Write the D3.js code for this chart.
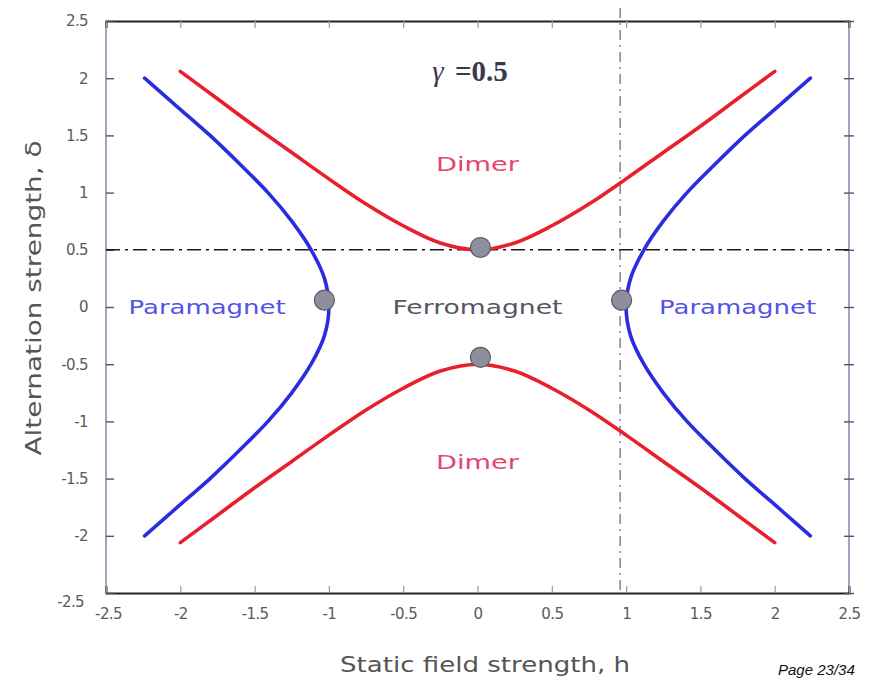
<!DOCTYPE html>
<html>
<head>
<meta charset="utf-8">
<script src="https://cdn.jsdelivr.net/npm/d3@7"></script>
<style>
  html, body { margin: 0; padding: 0; background: #fff; }
  svg { display: block; }
</style>
</head>
<body>
<svg id="chart" width="872" height="680"></svg>
<script>
// Tick values for both axes
const xTicks = [-2.5, -2, -1.5, -1, -0.5, 0, 0.5, 1, 1.5, 2, 2.5];
const yTicks = [-2.5, -2, -1.5, -1, -0.5, 0, 0.5, 1, 1.5, 2, 2.5];

// Paramagnet boundary: field h at each alternation delta (right branch; left is mirrored)
const blueDelta = [-2, -1.75, -1.5, -1.25, -1, -0.75, -0.5, -0.25, 0, 0.25, 0.5, 0.75, 1, 1.25, 1.5, 1.75, 2];
const blueH     = [2.24, 2.02, 1.80, 1.60, 1.41, 1.25, 1.12, 1.03, 1.00, 1.03, 1.12, 1.25, 1.41, 1.60, 1.80, 2.02, 2.24];

// Dimer boundary: alternation delta at each field h (upper branch; lower is mirrored)
const redH     = [-2, -1.75, -1.5, -1.25, -1, -0.75, -0.5, -0.25, 0, 0.25, 0.5, 0.75, 1, 1.25, 1.5, 1.75, 2];
const redDelta = [2.06, 1.82, 1.58, 1.35, 1.12, 0.90, 0.71, 0.56, 0.50, 0.56, 0.71, 0.90, 1.12, 1.35, 1.58, 1.82, 2.06];

// Multicritical points
const pointH     = [0.02, 0.02, -1.03, 0.97];
const pointDelta = [0.52, -0.44, 0.06, 0.06];

// Reference lines
const refDelta = 0.5;
const refH = 0.96;

// Region labels
const regionNames = ["Dimer", "Dimer", "Paramagnet", "Paramagnet", "Ferromagnet"];
const regionH     = [0, 0, -1.82, 1.75, 0.0];
const regionDelta = [1.25, -1.35, 0, 0, 0];
const regionColors = ["#e2466e", "#e2466e", "#5252e6", "#5252e6", "#55555f"];
const regionWidths = [83, 83, 157, 157, 170];

const svg = d3.select("#chart");
const plotLeft = 106, plotRight = 849, plotTop = 21, plotBottom = 593;

const x = d3.scaleLinear().domain([-2.5, 2.5]).range([plotLeft, plotRight]);
const y = d3.scaleLinear().domain([-2.5, 2.5]).range([plotBottom, plotTop]);

const tickFont = "'DejaVu Sans', sans-serif";
const fmt = d => String(d);

// Frame: grey sides, black top and bottom
svg.append("line").attr("x1", plotLeft).attr("x2", plotLeft).attr("y1", plotTop).attr("y2", plotBottom)
  .attr("stroke", "#a4a4bc").attr("stroke-width", 2);
svg.append("line").attr("x1", plotRight).attr("x2", plotRight).attr("y1", plotTop).attr("y2", plotBottom)
  .attr("stroke", "#a4a4bc").attr("stroke-width", 2);

// Axes with inward ticks
const gBottom = svg.append("g").attr("transform", `translate(0,${plotBottom})`)
  .call(d3.axisBottom(x).tickValues(xTicks).tickSize(-7).tickPadding(15).tickFormat(fmt));
const gTop = svg.append("g").attr("transform", `translate(0,${plotTop})`)
  .call(d3.axisTop(x).tickValues(xTicks).tickSize(-7).tickFormat(""));
const gLeft = svg.append("g").attr("transform", `translate(${plotLeft},0)`)
  .call(d3.axisLeft(y).tickValues(yTicks).tickSize(-8).tickPadding(18).tickFormat(fmt));
const gRight = svg.append("g").attr("transform", `translate(${plotRight},0)`)
  .call(d3.axisRight(y).tickValues(yTicks).tickSize(5).tickFormat(""));

[gBottom, gTop].forEach(g => {
  g.select(".domain").attr("stroke", "#222").attr("stroke-width", 2);
  g.selectAll(".tick line").attr("stroke", "#9a9aa8").attr("stroke-width", 1.2);
});
[gLeft, gRight].forEach(g => {
  g.select(".domain").remove();
  g.selectAll(".tick line").attr("stroke", "#555").attr("stroke-width", 1.4);
});
gRight.selectAll(".tick line").attr("x1", -5);
[gBottom, gLeft].forEach(g => {
  g.selectAll(".tick text").attr("fill", "#5a5a5a").attr("font-family", tickFont)
    .attr("font-size", 15).attr("letter-spacing", -0.6);
});
gBottom.selectAll(".tick text").attr("dy", "0.71em");
// corner labels are nudged apart so they do not collide
gBottom.selectAll(".tick text").filter(d => d === -2.5).attr("dx", 2);
gLeft.selectAll(".tick text").filter(d => d === -2.5).attr("dy", "0.9em").attr("dx", -4);

// Dash-dot reference lines
svg.append("line")
  .attr("x1", x(refH)).attr("x2", x(refH)).attr("y1", 8).attr("y2", plotBottom)
  .attr("stroke", "#8c8c98").attr("stroke-width", 1.6)
  .attr("stroke-dasharray", "10 5 2 5");
svg.append("line")
  .attr("x1", plotLeft).attr("x2", plotRight).attr("y1", y(refDelta)).attr("y2", y(refDelta))
  .attr("stroke", "#1a1a1a").attr("stroke-width", 1.6)
  .attr("stroke-dasharray", "14 5 3 5");

// Phase boundaries
const line = d3.line().curve(d3.curveCatmullRom.alpha(0.5));
const bluePts = blueDelta.map((d, i) => [blueH[i], d]);
const redPts = redH.map((h, i) => [h, redDelta[i]]);

[1, -1].forEach(s => {
  svg.append("path")
    .attr("d", line(bluePts.map(([h, d]) => [x(s * h), y(d)])))
    .attr("fill", "none").attr("stroke", "#2b2be0").attr("stroke-width", 3.6)
    .attr("stroke-linecap", "round");
  svg.append("path")
    .attr("d", line(redPts.map(([h, d]) => [x(h), y(s * d)])))
    .attr("fill", "none").attr("stroke", "#e8202e").attr("stroke-width", 3.6)
    .attr("stroke-linecap", "round");
});

// Multicritical points
svg.selectAll("circle.pt").data(pointH).join("circle")
  .attr("class", "pt")
  .attr("cx", d => x(d))
  .attr("cy", (d, i) => y(pointDelta[i]))
  .attr("r", 10)
  .attr("fill", "#8e8e9c").attr("stroke", "#5c5c68").attr("stroke-width", 1.2);

// Region labels
const labelFont = "'DejaVu Sans', Verdana, sans-serif";
svg.selectAll("text.region").data(regionNames).join("text")
  .attr("class", "region")
  .attr("x", (d, i) => x(regionH[i]))
  .attr("y", (d, i) => y(regionDelta[i]))
  .attr("dy", "0.36em")
  .attr("text-anchor", "middle")
  .attr("font-family", labelFont).attr("font-size", 20)
  .attr("fill", (d, i) => regionColors[i])
  .attr("textLength", (d, i) => regionWidths[i])
  .attr("lengthAdjust", "spacingAndGlyphs")
  .text(d => d);

// Anisotropy parameter
const gammaLabel = svg.append("text")
  .attr("x", 470).attr("y", 81)
  .attr("text-anchor", "middle")
  .attr("font-family", "'Liberation Serif', 'DejaVu Serif', serif")
  .attr("font-size", 29).attr("font-weight", "bold")
  .attr("fill", "#3a3a4c");
gammaLabel.append("tspan").attr("font-style", "italic").attr("font-weight", "normal").text("γ");
gammaLabel.append("tspan").attr("dx", 4).text(" =0.5");

// Axis titles
svg.append("text")
  .attr("x", 485).attr("y", 672)
  .attr("text-anchor", "middle")
  .attr("font-family", labelFont).attr("font-size", 21)
  .attr("fill", "#555")
  .attr("textLength", 290).attr("lengthAdjust", "spacingAndGlyphs")
  .text("Static field strength, h");
svg.append("text")
  .attr("transform", "translate(41,298) rotate(-90)")
  .attr("text-anchor", "middle")
  .attr("font-family", labelFont).attr("font-size", 21)
  .attr("fill", "#555")
  .attr("textLength", 315).attr("lengthAdjust", "spacingAndGlyphs")
  .text("Alternation strength, δ");

// Page footer
svg.append("text")
  .attr("x", 778).attr("y", 675)
  .attr("font-family", "'Liberation Sans', Arial, sans-serif")
  .attr("font-size", 15).attr("font-style", "italic")
  .attr("fill", "#111")
  .text("Page 23/34");
</script>
</body>
</html>
